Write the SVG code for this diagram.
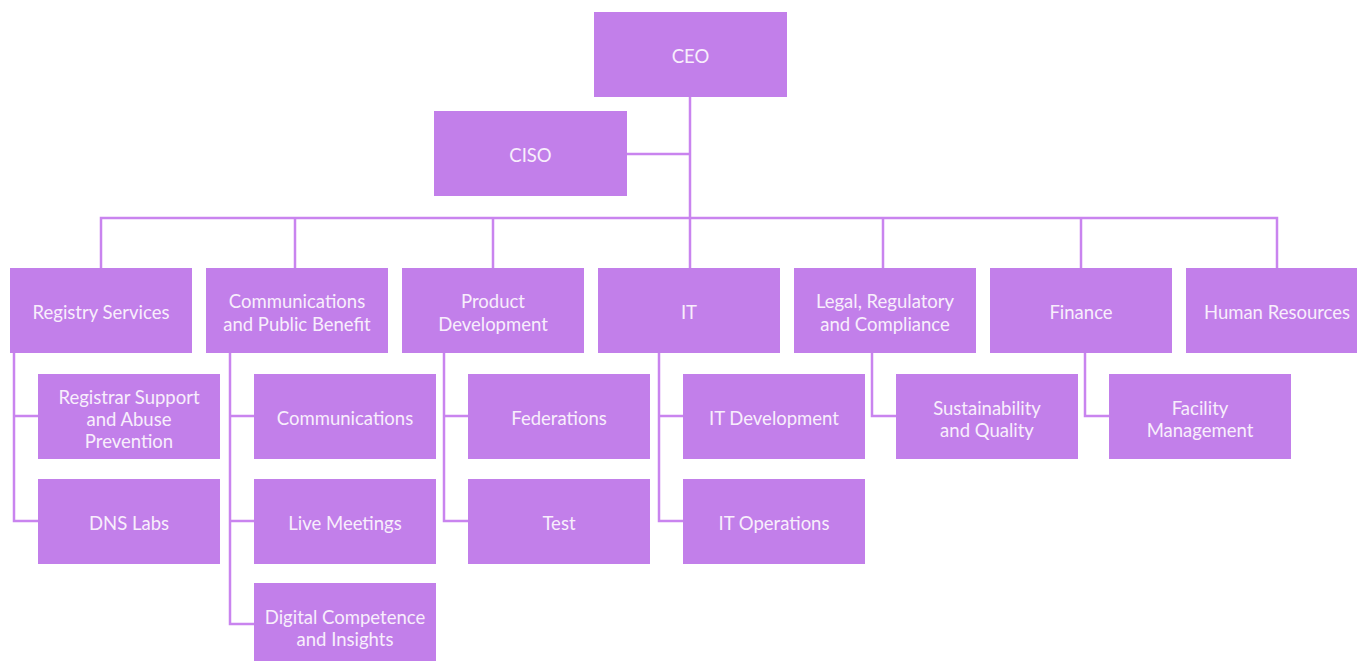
<svg xmlns="http://www.w3.org/2000/svg" width="1357" height="661" viewBox="0 0 1357 661">
<style>
.box{fill:#c27fea}
.t{font-family:Lato,"Liberation Sans",sans-serif;font-size:18.5px;font-weight:400;fill:#f8eefc;text-anchor:middle}
.c{fill:none;stroke:#c984ef;stroke-width:2.5}
</style>
<rect width="1357" height="661" fill="#ffffff"/>
<g id="connectors" class="c">
<path d="M690 97V268M627 154H690M101 268V218H1277V268M295 218V268M493 218V268M883 218V268M1081 218V268"/>
<path d="M14 352V521H38M14 416H38"/>
<path d="M230 352V624H254M230 416H254M230 521H254"/>
<path d="M444 352V521H468M444 416H468"/>
<path d="M659 352V521H683M659 416H683"/>
<path d="M872 352V416H896"/>
<path d="M1085 352V416H1109"/>
</g>
<g id="ceo"><rect class="box" x="594" y="12" width="193" height="85"/><text class="t" x="690.5" y="63">CEO</text></g>
<g id="ciso"><rect class="box" x="434" y="111" width="193" height="85"/><text class="t" x="530.5" y="162">CISO</text></g>
<g id="registry"><rect class="box" x="10" y="268" width="182" height="85"/><text class="t" x="101" y="318.5">Registry Services</text></g>
<g id="comms"><rect class="box" x="206" y="268" width="182" height="85"/><text class="t" x="297" y="308">Communications</text><text class="t" x="297" y="331">and Public Benefit</text></g>
<g id="product"><rect class="box" x="402" y="268" width="182" height="85"/><text class="t" x="493" y="308">Product</text><text class="t" x="493" y="331">Development</text></g>
<g id="it"><rect class="box" x="598" y="268" width="182" height="85"/><text class="t" x="689" y="318.5">IT</text></g>
<g id="legal"><rect class="box" x="794" y="268" width="182" height="85"/><text class="t" x="885" y="308">Legal, Regulatory</text><text class="t" x="885" y="331">and Compliance</text></g>
<g id="finance"><rect class="box" x="990" y="268" width="182" height="85"/><text class="t" x="1081" y="318.5">Finance</text></g>
<g id="hr"><rect class="box" x="1186" y="268" width="182" height="85"/><text class="t" x="1277" y="318.5">Human Resources</text></g>
<g id="registrar"><rect class="box" x="38" y="374" width="182" height="85"/><text class="t" x="129" y="404">Registrar Support</text><text class="t" x="129" y="426">and Abuse</text><text class="t" x="129" y="448">Prevention</text></g>
<g id="dnslabs"><rect class="box" x="38" y="479" width="182" height="85"/><text class="t" x="129" y="529.5">DNS Labs</text></g>
<g id="communications"><rect class="box" x="254" y="374" width="182" height="85"/><text class="t" x="345" y="425">Communications</text></g>
<g id="livemeetings"><rect class="box" x="254" y="479" width="182" height="85"/><text class="t" x="345" y="529.5">Live Meetings</text></g>
<g id="digital"><rect class="box" x="254" y="583" width="182" height="85"/><text class="t" x="345" y="624">Digital Competence</text><text class="t" x="345" y="646">and Insights</text></g>
<g id="federations"><rect class="box" x="468" y="374" width="182" height="85"/><text class="t" x="559" y="425">Federations</text></g>
<g id="test"><rect class="box" x="468" y="479" width="182" height="85"/><text class="t" x="559" y="529.5">Test</text></g>
<g id="itdev"><rect class="box" x="683" y="374" width="182" height="85"/><text class="t" x="774" y="425">IT Development</text></g>
<g id="itops"><rect class="box" x="683" y="479" width="182" height="85"/><text class="t" x="774" y="529.5">IT Operations</text></g>
<g id="sustainability"><rect class="box" x="896" y="374" width="182" height="85"/><text class="t" x="987" y="414.5">Sustainability</text><text class="t" x="987" y="437">and Quality</text></g>
<g id="facility"><rect class="box" x="1109" y="374" width="182" height="85"/><text class="t" x="1200" y="414.5">Facility</text><text class="t" x="1200" y="437">Management</text></g>
</svg>
